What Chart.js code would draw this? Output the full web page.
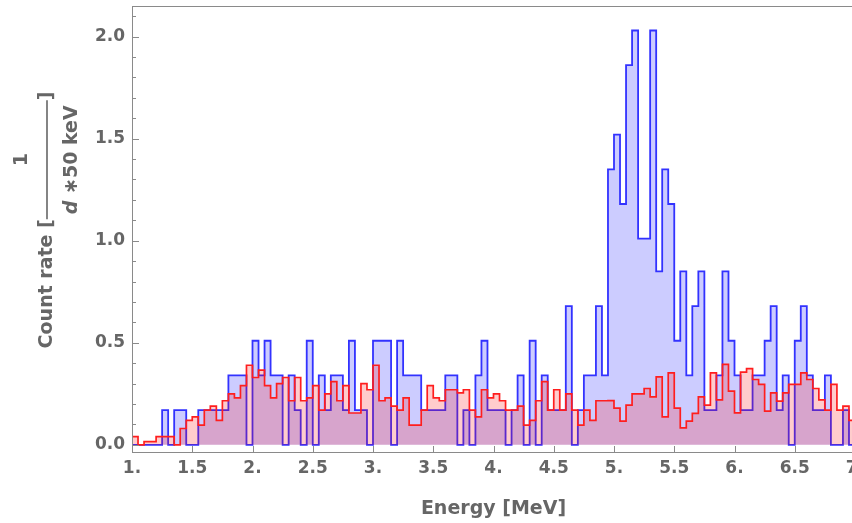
<!DOCTYPE html>
<html>
<head>
<meta charset="utf-8">
<script src="https://cdn.jsdelivr.net/npm/chart.js@4"></script>
<style>
  html, body { margin: 0; padding: 0; background: #fff; overflow: hidden; }
  canvas { display: block; }
</style>
</head>
<body>
<canvas id="chart-hist" width="870" height="523"></canvas>
<script>
// Energy spectrum, 50 keV bins from 1 to 7 MeV

const binStart = 1.0;
const binWidth = 0.05;

// blue histogram (one value per bin)
const blueRates = [
  0, 0, 0, 0, 0, 0.17, 0, 0.17, 0.17, 0,
  0, 0.17, 0.17, 0.17, 0.17, 0.17, 0.34, 0.34, 0.34, 0,
  0.51, 0.34, 0.51, 0.34, 0.34, 0, 0.34, 0.17, 0, 0.51,
  0, 0.34, 0.17, 0.34, 0.34, 0.17, 0.51, 0.17, 0.17, 0,
  0.51, 0.51, 0.51, 0, 0.51, 0.34, 0.34, 0.34, 0.17, 0.17,
  0.17, 0.17, 0.34, 0.34, 0, 0.17, 0, 0.34, 0.51, 0.17,
  0.17, 0.17, 0, 0.17, 0.34, 0, 0.51, 0, 0.34, 0.17,
  0.17, 0.17, 0.68, 0, 0.17, 0.34, 0.34, 0.68, 0.34, 1.35,
  1.52, 1.18, 1.86, 2.03, 1.01, 1.01, 2.03, 0.85, 1.35, 1.18,
  0.51, 0.85, 0.34, 0.68, 0.85, 0.17, 0.17, 0.34, 0.85, 0.51,
  0.34, 0.17, 0.17, 0.34, 0.34, 0.51, 0.68, 0.17, 0.34, 0,
  0.51, 0.68, 0.34, 0.17, 0.17, 0.34, 0, 0, 0.17, 0
];

// red histogram (one value per bin)
const redRates = [
  0.04, 0.0, 0.016, 0.016, 0.04, 0.04, 0.04, 0.0, 0.08, 0.12,
  0.137, 0.097, 0.17, 0.19, 0.12, 0.216, 0.25, 0.23, 0.29, 0.39,
  0.33, 0.366, 0.29, 0.23, 0.30, 0.33, 0.216, 0.33, 0.216, 0.23,
  0.29, 0.17, 0.25, 0.31, 0.216, 0.29, 0.156, 0.156, 0.30, 0.27,
  0.39, 0.216, 0.23, 0.19, 0.17, 0.23, 0.097, 0.097, 0.17, 0.29,
  0.23, 0.216, 0.27, 0.27, 0.255, 0.27, 0.17, 0.137, 0.27, 0.23,
  0.25, 0.216, 0.17, 0.17, 0.19, 0.097, 0.12, 0.216, 0.31, 0.17,
  0.27, 0.17, 0.25, 0.17, 0.097, 0.17, 0.12, 0.216, 0.216, 0.217,
  0.18, 0.116, 0.195, 0.25, 0.25, 0.276, 0.235, 0.333, 0.137, 0.353,
  0.18, 0.083, 0.116, 0.154, 0.235, 0.195, 0.353, 0.22, 0.394, 0.263,
  0.157, 0.356, 0.373, 0.32, 0.296, 0.165, 0.255, 0.214, 0.255, 0.296,
  0.296, 0.353, 0.32, 0.276, 0.22, 0.17, 0.296, 0.17, 0.19, 0.12
];

const xTicks = [1, 1.5, 2, 2.5, 3, 3.5, 4, 4.5, 5, 5.5, 6, 6.5, 7];
const yTicks = [0, 0.5, 1, 1.5, 2];

const labelFont = 'DejaVu Sans';
const textGray = '#666666';

// turn per-bin values into a closed step outline
function stepPoints(values) {
  const end = binStart + values.length * binWidth;
  const pts = [{x: binStart, y: 0}];
  values.forEach((v, i) => pts.push({x: binStart + i * binWidth, y: v}));
  pts.push({x: end, y: values[values.length - 1]});
  pts.push({x: end, y: 0});
  return pts;
}

// frame + inward ticks, Mathematica style
const framePlugin = {
  id: 'frame',
  afterDatasetsDraw(chart) {
    const {ctx, chartArea: a, scales: {x, y}} = chart;
    ctx.save();
    ctx.strokeStyle = '#8a8a8a';
    ctx.lineWidth = 1;
    ctx.strokeRect(a.left + 0.5, a.top + 0.5, a.right - a.left, a.bottom - a.top - 1);
    ctx.beginPath();
    xTicks.forEach(v => {
      const px = Math.round(x.getPixelForValue(v)) + 0.5;
      ctx.moveTo(px, a.bottom);
      ctx.lineTo(px, a.bottom - 7);
    });
    for (let i = 0; i <= 21; i++) {
      const py = Math.round(y.getPixelForValue(i / 10)) + 0.5;
      const len = i % 5 === 0 ? 7 : 4;
      ctx.moveTo(a.left, py);
      ctx.lineTo(a.left + len, py);
    }
    ctx.stroke();
    ctx.restore();
  }
};

// y title with the fraction 1 / (d*50 keV)
const yTitlePlugin = {
  id: 'yTitle',
  afterDraw(chart) {
    const {ctx} = chart;
    const big = 'bold 19px "' + labelFont + '"';
    const ital = 'italic bold 19px "' + labelFont + '"';
    ctx.save();
    ctx.fillStyle = textGray;
    ctx.strokeStyle = textGray;
    ctx.font = big;
    const left = 'Count rate [';
    const wl = ctx.measureText(left).width;
    const rest = '\u221750 keV';
    const wRest = ctx.measureText(rest).width;
    ctx.font = ital;
    const wd = ctx.measureText('d ').width;
    const wDen = wd + wRest;
    const wf = wDen + 10;
    ctx.font = big;
    const wr = ctx.measureText(']').width;
    const total = wl + wf + wr;
    ctx.translate(47, 220);
    ctx.rotate(-Math.PI / 2);
    let cx = -total / 2;
    ctx.textBaseline = 'middle';
    ctx.textAlign = 'left';
    ctx.fillText(left, cx, 0);
    cx += wl;
    ctx.lineWidth = 1.6;
    ctx.beginPath();
    ctx.moveTo(cx, 0);
    ctx.lineTo(cx + wf, 0);
    ctx.stroke();
    ctx.textAlign = 'center';
    ctx.fillText('1', cx + wf / 2, -25);
    ctx.textAlign = 'left';
    const dx = cx + (wf - wDen) / 2;
    ctx.font = ital;
    ctx.fillText('d ', dx, 25);
    ctx.font = big;
    ctx.fillText(rest, dx + wd, 25);
    ctx.fillText(']', cx + wf, 0);
    ctx.restore();
  }
};

const dataHist = {
  datasets: [
    {
      label: 'red',
      data: stepPoints(redRates),
      stepped: true,
      borderColor: 'rgb(255, 30, 30)',
      backgroundColor: 'rgba(255, 0, 0, 0.2)',
      borderWidth: 1.7,
      fill: 'origin',
      pointRadius: 0
    },
    {
      label: 'blue',
      data: stepPoints(blueRates),
      stepped: true,
      borderColor: 'rgb(50, 50, 255)',
      backgroundColor: 'rgba(0, 0, 255, 0.2)',
      borderWidth: 1.8,
      fill: 'origin',
      pointRadius: 0
    }
  ]
};

const configHist = {
  type: 'line',
  data: dataHist,
  plugins: [framePlugin, yTitlePlugin],
  options: {
    responsive: false,
    animation: false,
    devicePixelRatio: 1,
    layout: { padding: { top: 6, right: 15, bottom: 0, left: 0 } },
    scales: {
      x: {
        type: 'linear',
        min: 1,
        max: 7,
        grid: { display: false, drawTicks: false },
        border: { display: false },
        afterBuildTicks: s => { s.ticks = xTicks.map(v => ({value: v})); },
        afterFit: s => { s.height = 70; s.paddingLeft = 0; s.paddingRight = 0; },
        ticks: {
          autoSkip: false,
          maxRotation: 0,
          padding: 5,
          color: textGray,
          font: { family: labelFont, size: 17, weight: 'bold' },
          callback: v => Number.isInteger(v) ? v + '.' : String(v)
        },
        title: {
          display: true,
          text: 'Energy [MeV]',
          color: textGray,
          font: { family: labelFont, size: 19, weight: 'bold' },
          padding: { top: 4, bottom: 3 }
        }
      },
      y: {
        min: -0.04,
        max: 2.15,
        grid: { display: false, drawTicks: false },
        border: { display: false },
        afterBuildTicks: s => { s.ticks = yTicks.map(v => ({value: v})); },
        afterFit: s => { s.width = 132; s.paddingTop = 0; s.paddingBottom = 0; },
        ticks: {
          padding: 7,
          color: textGray,
          font: { family: labelFont, size: 17, weight: 'bold' },
          callback: v => v.toFixed(1)
        }
      }
    },
    plugins: {
      legend: { display: false },
      tooltip: { enabled: false }
    }
  }
};

const chartHist = new Chart(
  document.getElementById('chart-hist'),
  configHist
);
</script>
</body>
</html>
